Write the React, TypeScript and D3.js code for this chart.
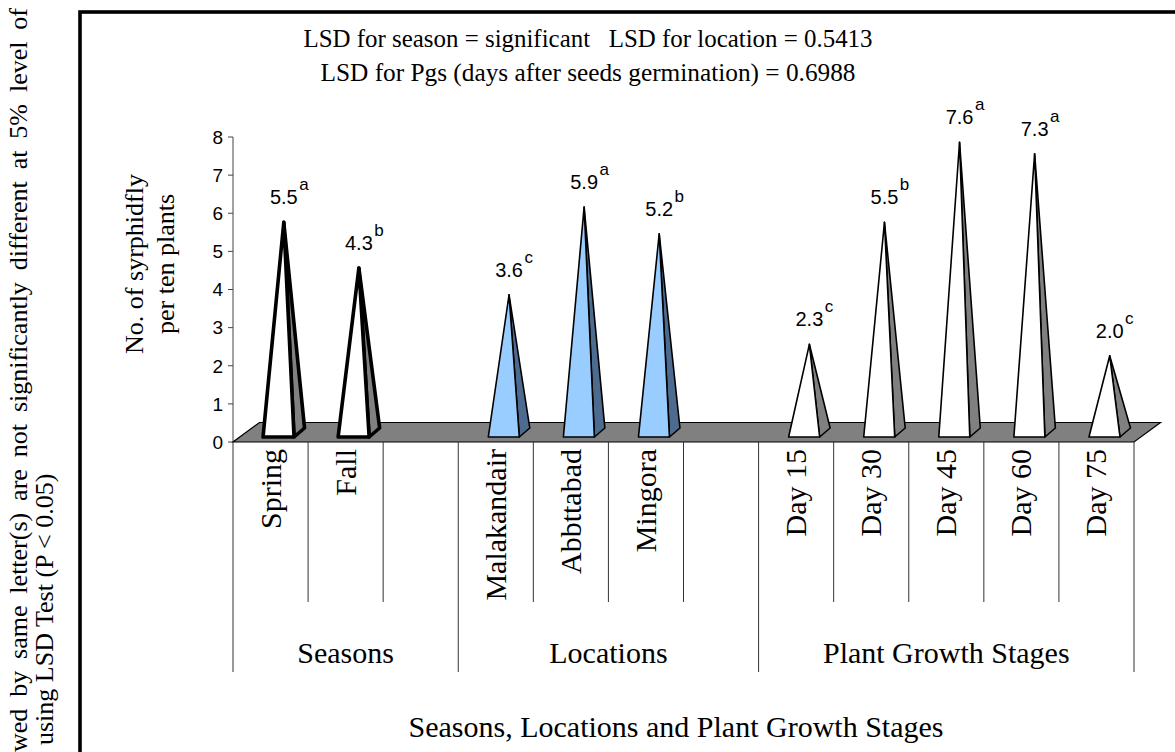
import React from "react";
import * as d3 from "d3";

// Category axis (blank slots separate the three groups)
const categories = [
  "Spring", "Fall", "",
  "Malakandair", "Abbttabad", "Mingora", "",
  "Day 15", "Day 30", "Day 45", "Day 60", "Day 75",
];
// Mean number of syrphidfly per ten plants
const values: (number | null)[] = [5.5, 4.3, null, 3.6, 5.9, 5.2, null, 2.3, 5.5, 7.6, 7.3, 2.0];
// LSD significance letters
const letters = ["a", "b", "", "c", "a", "b", "", "c", "b", "a", "a", "c"];

const groupNames = ["Seasons", "Locations", "Plant Growth Stages"];
const groupSizes = [3, 4, 5];

const yTicks = [0, 1, 2, 3, 4, 5, 6, 7, 8];

const titleLines = [
  "LSD for season = significant   LSD for location = 0.5413",
  "LSD for Pgs (days after seeds germination) = 0.6988",
];
const yTitle = ["No. of syrphidfly", "per ten plants"];
const xTitle = "Seasons, Locations and Plant Growth Stages";
const noteLines = [
  "Means followed by same letter(s) are not significantly different at 5% level of",
  "using LSD Test (P < 0.05)",
];

const groupStyles = [
  { front: "#ffffff", side: "#808080", stroke: 3.6 },
  { front: "#99ccff", side: "#4d6b8f", stroke: 1.6 },
  { front: "#ffffff", side: "#808080", stroke: 1.6 },
];

const SERIF = "'Liberation Serif', 'Times New Roman', serif";
const SANS = "'Liberation Sans', Arial, sans-serif";

const W = 1175;
const H = 752;

// oblique depth of the floor and of each pyramid base
const FLOOR_DX = 26.5;
const FLOOR_DY = -19.5;
const BASE_DX = 10.5;
const BASE_DY = -9;
const BASE_HALF = 15.5;

function numWidth(s: string, fs: number) {
  let w = 0;
  for (const ch of s) w += ch === "." ? 0.278 : 0.556;
  return w * fs;
}

export default function App() {
  const x = d3
    .scaleBand<number>()
    .domain(d3.range(categories.length))
    .range([233, 1134])
    .padding(0);
  const y = d3.scaleLinear().domain([0, 8]).range([442, 137]);
  const bw = x.bandwidth();
  const y0 = y(0);

  // group index of each category
  const groupOf: number[] = [];
  groupSizes.forEach((n, g) => {
    for (let k = 0; k < n; k++) groupOf.push(g);
  });
  const groupStart: number[] = [];
  let acc = 0;
  groupSizes.forEach((n) => {
    groupStart.push(acc);
    acc += n;
  });

  const x0 = x(0)!;
  const x1 = x(categories.length - 1)! + bw;
  const floor = [
    [x0, y0],
    [x1, y0],
    [x1 + FLOOR_DX, y0 + FLOOR_DY],
    [x0 + FLOOR_DX, y0 + FLOOR_DY],
  ];

  const pts = (p: number[][]) => p.map((q) => q.join(",")).join(" ");

  return (
    <svg
      width={W}
      height={H}
      style={{ position: "absolute", left: 0, top: 0, background: "#fff" }}
    >
      <rect x={0} y={0} width={W} height={H} fill="#fff" />

      {/* side note */}
      <text
        transform={`translate(27,8) rotate(-90)`}
        textAnchor="end"
        fontFamily={SERIF}
        fontSize={26}
        wordSpacing={5.4}
        fill="#000"
      >
        {noteLines[0]}
      </text>
      <text
        transform={`translate(53,745) rotate(-90)`}
        textAnchor="start"
        fontFamily={SERIF}
        fontSize={26}
        fill="#000"
      >
        {noteLines[1]}
      </text>

      {/* chart frame */}
      <rect x={80} y={12} width={1300} height={900} fill="none" stroke="#000" strokeWidth={3.6} />

      {/* title */}
      {titleLines.map((t, i) => (
        <text
          key={i}
          x={588}
          y={i === 0 ? 47 : 81}
          textAnchor="middle"
          fontFamily={SERIF}
          fontSize={25}
          textLength={i === 0 ? 569 : 535}
          lengthAdjust="spacingAndGlyphs"
          style={{ whiteSpace: "pre" }}
        >
          {t}
        </text>
      ))}

      {/* value axis */}
      <line x1={x0} x2={x0} y1={y(8)} y2={y0} stroke="#444" strokeWidth={1} />
      {yTicks.map((t) => (
        <g key={t}>
          <line x1={x0 - 5} x2={x0} y1={y(t)} y2={y(t)} stroke="#444" strokeWidth={1} />
          <text
            x={223}
            y={y(t)}
            dy="0.36em"
            textAnchor="end"
            fontFamily={SANS}
            fontSize={19}
          >
            {t}
          </text>
        </g>
      ))}
      {yTitle.map((t, i) => (
        <text
          key={i}
          transform={`translate(${i === 0 ? 143 : 174},264) rotate(-90)`}
          textAnchor="middle"
          fontFamily={SERIF}
          fontSize={26}
        >
          {t}
        </text>
      ))}

      {/* floor */}
      <polygon points={pts(floor)} fill="#808080" stroke="#000" strokeWidth={1.2} />

      {/* pyramids */}
      {categories.map((c, i) => {
        const v = values[i];
        if (v == null) return null;
        const st = groupStyles[groupOf[i]];
        const cx = x(i)! + bw / 2 + 8;
        const fy = 437;
        const fl = [cx - BASE_HALF, fy];
        const fr = [cx + BASE_HALF, fy];
        const br = [cx + BASE_HALF + BASE_DX, fy + BASE_DY];
        const apex = [cx + BASE_DX / 2, y(v) + BASE_DY - 1];
        const label = v.toFixed(1);
        const ly = apex[1] - 18;
        return (
          <g key={i}>
            <polygon
              points={pts([fr, br, apex])}
              fill={st.side}
              stroke="#000"
              strokeWidth={st.stroke}
              strokeLinejoin="round"
            />
            <polygon
              points={pts([fl, fr, apex])}
              fill={st.front}
              stroke="#000"
              strokeWidth={st.stroke}
              strokeLinejoin="round"
            />
            <text x={apex[0]} y={ly} textAnchor="middle" fontFamily={SANS} fontSize={20}>
              {label}
            </text>
            <text
              x={apex[0] + numWidth(label, 20) / 2 + 1.5}
              y={ly - 14}
              textAnchor="start"
              fontFamily={SANS}
              fontSize={17}
            >
              {letters[i]}
            </text>
          </g>
        );
      })}

      {/* category separators */}
      {d3.range(categories.length + 1).map((k) => {
        const xx = k < categories.length ? x(k)! : x1;
        const long = k === categories.length || groupStart.includes(k);
        return (
          <line
            key={k}
            x1={xx}
            x2={xx}
            y1={y0}
            y2={long ? 672 : 602}
            stroke="#333"
            strokeWidth={1}
          />
        );
      })}

      {/* category labels */}
      {categories.map((c, i) =>
        c ? (
          <text
            key={i}
            transform={`translate(${x(i)! + bw / 2 + 10},449) rotate(-90)`}
            textAnchor="end"
            fontFamily={SERIF}
            fontSize={30}
          >
            {c}
          </text>
        ) : null
      )}

      {/* group labels */}
      {groupNames.map((g, gi) => {
        const a = x(groupStart[gi])!;
        const b = a + groupSizes[gi] * bw;
        return (
          <text
            key={g}
            x={(a + b) / 2}
            y={663}
            textAnchor="middle"
            fontFamily={SERIF}
            fontSize={30}
          >
            {g}
          </text>
        );
      })}

      {/* axis title */}
      <text x={676} y={737} textAnchor="middle" fontFamily={SERIF} fontSize={30}>
        {xTitle}
      </text>
    </svg>
  );
}
